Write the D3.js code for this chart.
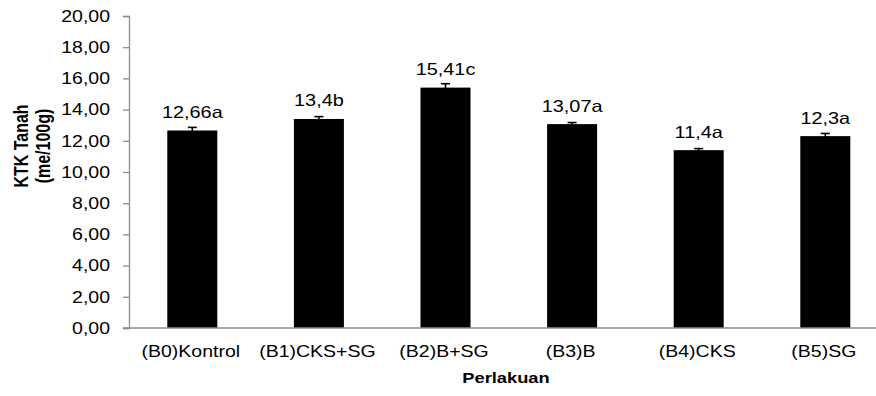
<!DOCTYPE html>
<html>
<head>
<meta charset="utf-8">
<script src="https://cdn.jsdelivr.net/npm/d3@7"></script>
<style>
  html, body { margin: 0; padding: 0; background: #fff; }
  svg { display: block; font-family: "Liberation Sans", Arial, sans-serif; }
</style>
</head>
<body>
<svg id="chart" width="876" height="396"></svg>
<script>
// Treatments and soil CEC (KTK) results
const categories = ["(B0)Kontrol", "(B1)CKS+SG", "(B2)B+SG", "(B3)B", "(B4)CKS", "(B5)SG"];
const values = [12.66, 13.4, 15.41, 13.07, 11.4, 12.3];
const errors = [0.2, 0.15, 0.25, 0.1, 0.1, 0.17];
const letters = ["a", "b", "c", "a", "a", "a"];
const yTicks = [0, 2, 4, 6, 8, 10, 12, 14, 16, 18, 20];
const yTitleLines = ["KTK Tanah", "(me/100g)"];
const xTitle = "Perlakuan";

const svg = d3.select("#chart");
const SX = 1.22; // horizontal text stretch

const x0 = 129, x1 = 888.6, yTop = 16, yBot = 328;

const x = d3.scaleBand()
  .domain(categories)
  .range([x0, x1])
  .paddingInner(0.605)
  .paddingOuter(0.3025);

const y = d3.scaleLinear().domain([0, 20]).range([yBot, yTop]);

const loc = d3.formatLocale({ decimal: ",", thousands: ".", grouping: [3], currency: ["", ""] });
const fmtTick = loc.format(".2f");
const fmtVal = d => String(d).replace(".", ",");

const axisColor = "#8c8c8c";

// y axis
const yAxis = svg.append("g").attr("transform", `translate(${x0},0)`)
  .call(d3.axisLeft(y).tickValues(yTicks).tickSize(6).tickFormat(""));
yAxis.select(".domain").attr("stroke", axisColor).attr("stroke-width", 1.3);
yAxis.selectAll(".tick line").attr("stroke", axisColor).attr("stroke-width", 1.3);

svg.append("g").selectAll("text").data(yTicks).join("text")
  .attr("transform", d => `translate(110,${y(d) + 5.8}) scale(${SX},1)`)
  .attr("text-anchor", "end")
  .attr("font-size", 16)
  .attr("fill", "#000")
  .text(d => fmtTick(d));

// bars
svg.append("g").selectAll("rect").data(values).join("rect")
  .attr("x", (d, i) => x(categories[i]))
  .attr("width", x.bandwidth())
  .attr("y", d => y(d))
  .attr("height", d => y(0) - y(d))
  .attr("fill", "#000");

// error bars
const eb = svg.append("g").attr("stroke", "#000").attr("stroke-width", 1.6);
values.forEach((v, i) => {
  const cx = x(categories[i]) + x.bandwidth() / 2;
  eb.append("line").attr("x1", cx).attr("x2", cx)
    .attr("y1", y(v - errors[i])).attr("y2", y(v + errors[i]));
  eb.append("line").attr("x1", cx - 4.5).attr("x2", cx + 4.5)
    .attr("y1", y(v + errors[i])).attr("y2", y(v + errors[i]));
});

// x axis line
svg.append("line")
  .attr("x1", x0 - 6).attr("x2", 876)
  .attr("y1", yBot).attr("y2", yBot)
  .attr("stroke", axisColor).attr("stroke-width", 1.3);

// value labels
svg.append("g").selectAll("text").data(values).join("text")
  .attr("transform", (d, i) => `translate(${x(categories[i]) + x.bandwidth() / 2},${y(d) - 12.5}) scale(${SX},1)`)
  .attr("text-anchor", "middle")
  .attr("font-size", 16.3)
  .attr("fill", "#000")
  .text((d, i) => fmtVal(d) + letters[i]);

// category labels
svg.append("g").selectAll("text").data(categories).join("text")
  .attr("transform", d => `translate(${x(d) + x.bandwidth() / 2 - 1.5},357.3) scale(${SX},1)`)
  .attr("text-anchor", "middle")
  .attr("font-size", 16)
  .attr("fill", "#000")
  .text(d => d);

// axis titles
svg.append("text")
  .attr("transform", `translate(506,382.7) scale(${SX},1)`)
  .attr("text-anchor", "middle")
  .attr("font-size", 15)
  .attr("font-weight", "bold")
  .attr("fill", "#000")
  .text(xTitle);

yTitleLines.forEach((t, i) => {
  svg.append("text")
    .attr("transform", `translate(${28 + i * 22},146) scale(${SX},1) rotate(-90)`)
    .attr("text-anchor", "middle")
    .attr("font-size", 16)
    .attr("font-weight", "bold")
    .attr("fill", "#000")
    .text(t);
});
</script>
</body>
</html>
